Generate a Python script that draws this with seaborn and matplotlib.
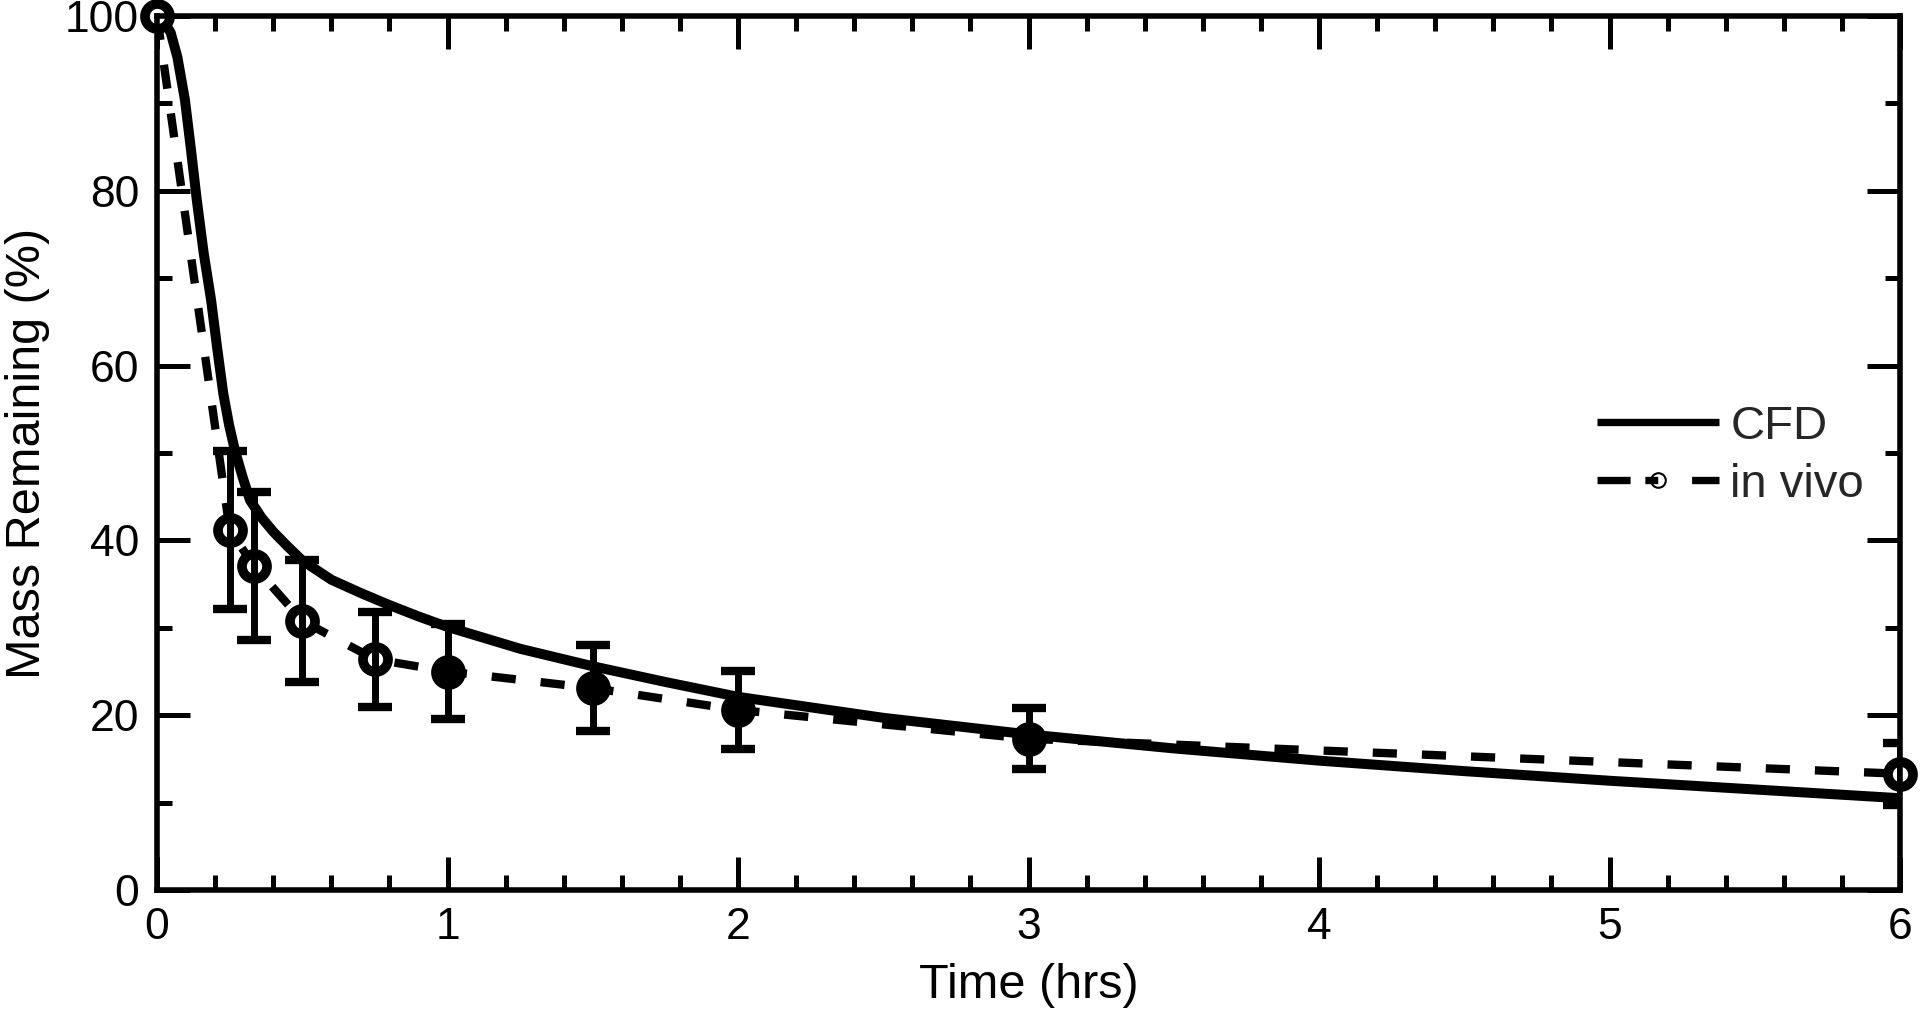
import numpy as np
import pandas as pd
import matplotlib
matplotlib.use("Agg")
import matplotlib.pyplot as plt
from matplotlib.lines import Line2D
from matplotlib.ticker import MultipleLocator
import seaborn as sns

# ---- data ----
cfd_t = [0, 0.02, 0.047, 0.07, 0.096, 0.115, 0.137, 0.16, 0.186, 0.207, 0.228, 0.248,
         0.268, 0.295, 0.32, 0.36, 0.4, 0.45, 0.5, 0.6, 0.7, 0.8, 0.9, 1.0, 1.25, 1.5,
         1.75, 2.0, 2.5, 3.0, 3.5, 4.0, 4.5, 5.0, 5.5, 6.0]
cfd_mass = [100, 99.6, 98.1, 95.3, 90.4, 85.2, 78.9, 73.0, 67.5, 62.0, 56.8, 53.2,
            50.3, 47.2, 44.6, 42.6, 41.0, 39.3, 37.7, 35.5, 34.0, 32.6, 31.3, 30.1, 27.6, 25.6,
            23.8, 22.1, 19.7, 17.8, 16.2, 14.8, 13.6, 12.5, 11.5, 10.5]

vivo_t = [0, 0.25, 0.333, 0.5, 0.75, 1.0, 1.5, 2.0, 3.0, 6.0]
vivo_mass = [100, 41.2, 37.1, 30.8, 26.4, 25.0, 23.1, 20.6, 17.3, 13.3]
vivo_sd = [0, 9.0, 8.45, 7.0, 5.45, 5.4, 4.95, 4.5, 3.5, 3.55]

x_ticks = [0, 1, 2, 3, 4, 5, 6]
y_ticks = [0, 20, 40, 60, 80, 100]

sns.set_theme(style="ticks")
plt.rcParams["font.family"] = ["Liberation Sans", "DejaVu Sans"]

fig = plt.figure(figsize=(19.2, 10.11), dpi=100)
ax = fig.add_axes([0.0818, 0.1197, 0.9078, 0.8644])

cfd = pd.DataFrame({"t": cfd_t, "m": cfd_mass})
vivo = pd.DataFrame({"t": vivo_t, "m": vivo_mass, "sd": vivo_sd})

sns.lineplot(data=cfd, x="t", y="m", ax=ax, color="black", lw=7.2,
             solid_capstyle="butt", solid_joinstyle="round", zorder=3, clip_on=False)
sns.lineplot(data=vivo, x="t", y="m", ax=ax, color="black", lw=6,
             dashes=False, zorder=2)
ax.lines[-1].set_dashes((2.9, 3.0))

# markers
filled = (vivo["t"] >= 1) & (vivo["t"] <= 3)
sns.scatterplot(data=vivo[~filled], x="t", y="m", ax=ax, s=18**2, marker="o",
                facecolor="white", edgecolor="black", linewidth=7, zorder=4,
                clip_on=False)
sns.scatterplot(data=vivo[filled], x="t", y="m", ax=ax, s=18**2, marker="o",
                facecolor="black", edgecolor="black", linewidth=7, zorder=4,
                clip_on=False)

# error bars
eb = vivo[vivo["sd"] > 0]
ax.errorbar(eb["t"], eb["m"], yerr=eb["sd"], fmt="none", ecolor="black",
            elinewidth=5, capsize=12.5, capthick=6, zorder=5)

ax.set_xlim(0, 6)
ax.set_ylim(0, 100)
ax.set_xticks(x_ticks)
ax.set_yticks(y_ticks)
ax.set_xticklabels([str(v) for v in x_ticks])
ax.set_yticklabels([str(v) for v in y_ticks])
ax.xaxis.set_minor_locator(MultipleLocator(0.2))
ax.yaxis.set_minor_locator(MultipleLocator(10))
ax.tick_params(which="both", direction="in", top=True, right=True,
               color="black", width=3.6, labelsize=32, labelcolor="black")
ax.tick_params(which="major", length=24)
ax.tick_params(which="minor", length=11)
ax.tick_params(axis="x", which="major", pad=12)
ax.tick_params(axis="y", which="major", pad=13)
for s in ax.spines.values():
    s.set_visible(True)
    s.set_color("black")
    s.set_linewidth(4)
    s.set_zorder(6)

ax.set_xlabel("Time (hrs)", fontsize=35, color="black", labelpad=11)
ax.set_ylabel("Mass Remaining (%)", fontsize=35, color="black", labelpad=11)
ax.set_facecolor("white")
ax.grid(False)

handles = [
    Line2D([], [], color="black", lw=5.3, solid_capstyle="butt"),
    Line2D([], [], color="black", lw=5.3, linestyle=(0, (4.5, 2.0, 1.75, 4.6)),
           marker="o", ms=10.5, mfc="none", mec="black", mew=1.5),
]
ax.legend(handles, ["CFD", "in vivo"], loc="center left",
          bbox_to_anchor=(0.826, 0.497), frameon=False, fontsize=34,
          handlelength=2.58, handletextpad=0.25, labelspacing=0.3,
          borderaxespad=0, borderpad=0)

fig.savefig("out.png", dpi=100, facecolor="white")
